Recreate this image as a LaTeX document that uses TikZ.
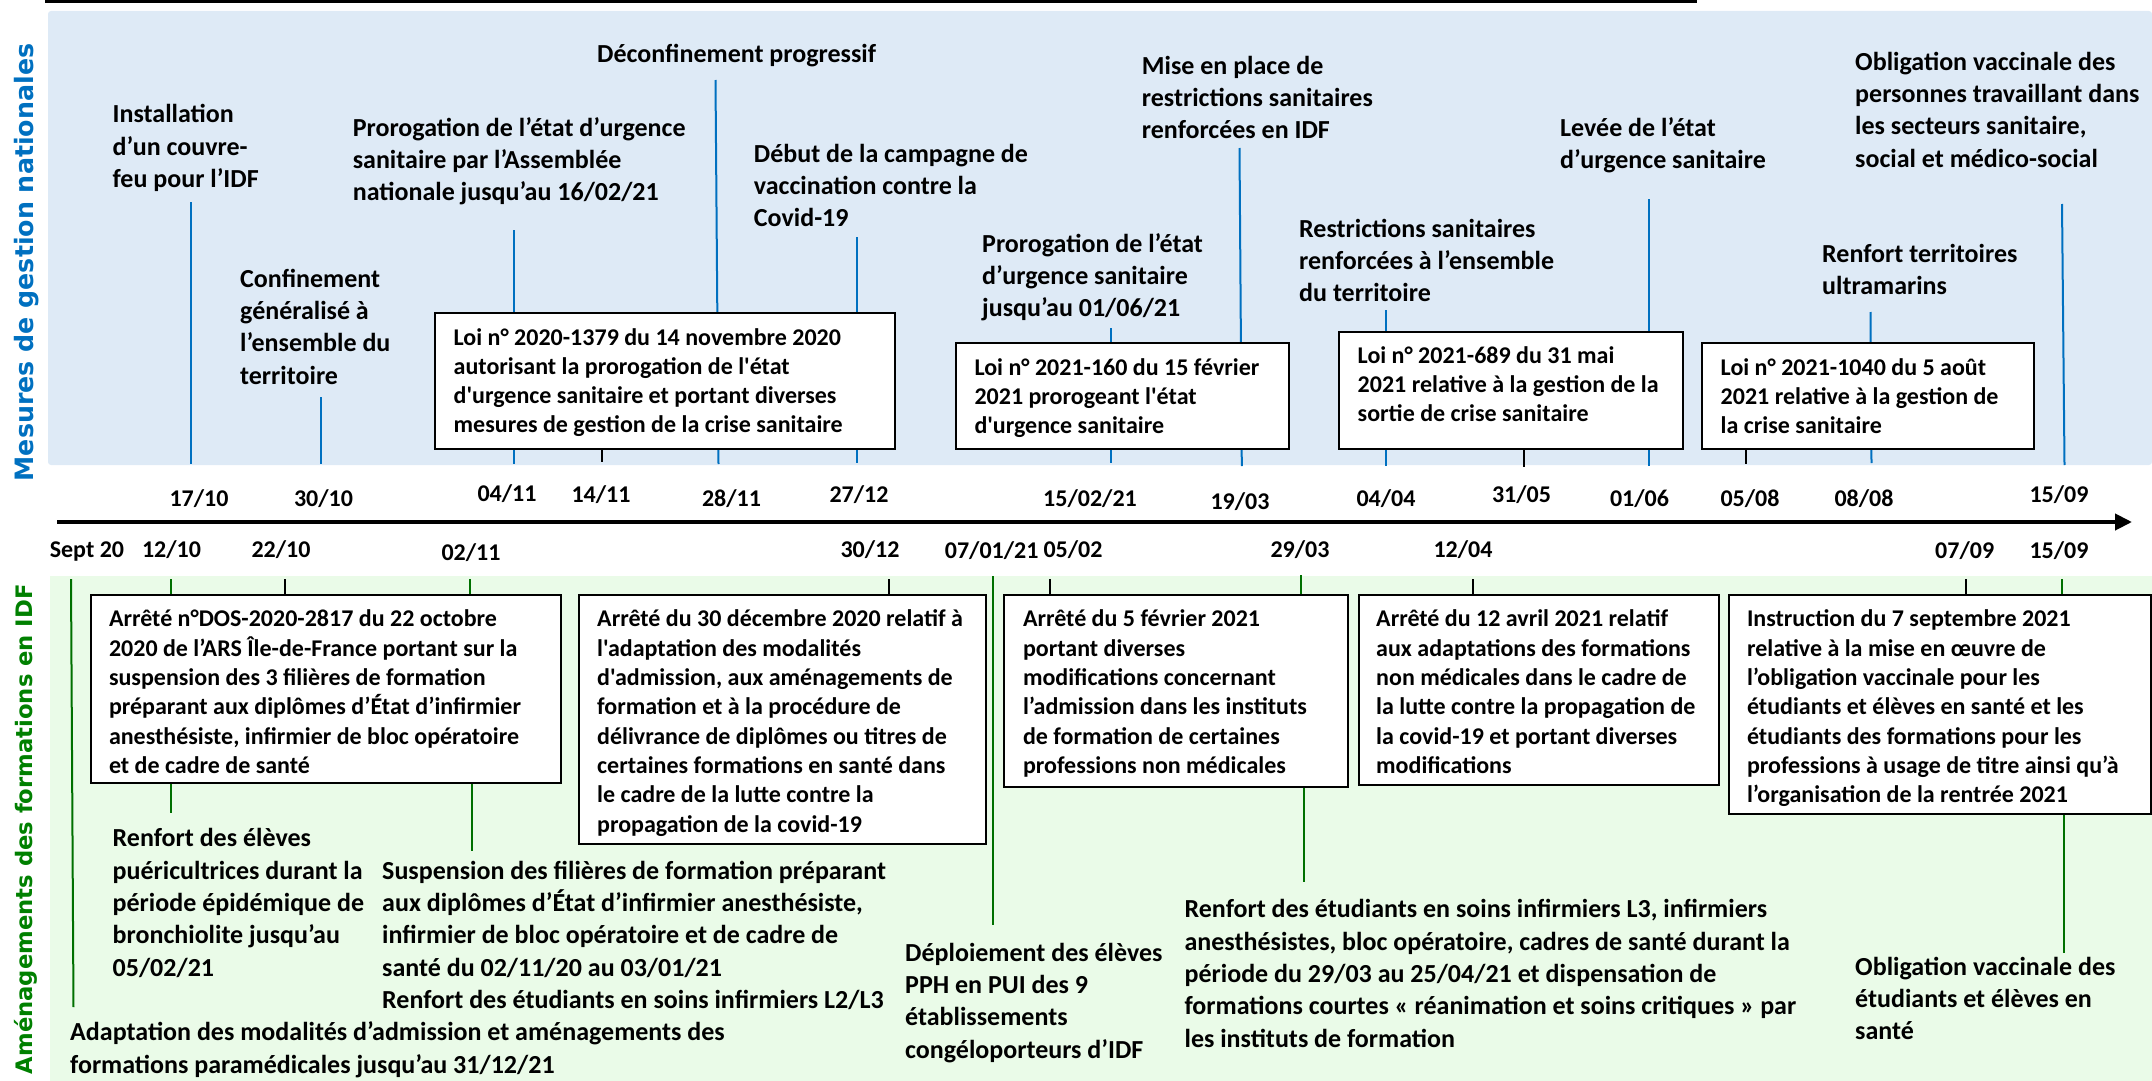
\documentclass[tikz,border=0pt]{standalone}
\usepackage{fontspec}
\usetikzlibrary{arrows.meta}
\newfontfamily\cf{Carlito}
\newfontfamily\dvs{DejaVu Sans}
\definecolor{bluebg}{RGB}{222,234,246}
\definecolor{greenbg}{RGB}{234,251,232}
\definecolor{blueln}{RGB}{0,112,192}
\definecolor{greenln}{RGB}{0,112,0}
\definecolor{greentx}{RGB}{0,128,0}
\newcommand\vseg[4]{\coordinate (#1a) at (#2);\coordinate (#1b) at (#3);\draw[#4] (#1a) -- (#1b);}
\tikzset{
 lbl/.style={anchor=north west, inner sep=0pt, align=left, font=\cf\bfseries\fontsize{26}{32.3}\selectfont},
 boxt/.style={anchor=north west, inner sep=0pt, align=left, font=\cf\bfseries\fontsize{24}{29.3}\selectfont},
 datel/.style={anchor=base, inner sep=0pt, font=\cf\bfseries\fontsize{24}{29}\selectfont},
 frame/.style={draw=black, line width=2pt, fill=white, anchor=north west, inner sep=0pt},
 bline/.style={draw=blueln, line width=2pt},
 gline/.style={draw=greenln, line width=2pt},
 kline/.style={draw=black, line width=2pt},
 vlab/.style={rotate=90, inner sep=0pt, font=\dvs\bfseries\fontsize{25.3}{30}\selectfont},
 vlabg/.style={rotate=90, inner sep=0pt, font=\dvs\bfseries\fontsize{22.7}{27}\selectfont},
}
\begin{document}
\begin{tikzpicture}[x=1pt,y=-1pt]
\useasboundingbox (0,0) rectangle (2152,1081);
% backgrounds
\fill[bluebg, rounded corners=3pt] (48,11) rectangle (2152,465);
\fill[greenbg] (50,576) rectangle (2152,1081);
% top rule
\coordinate (tra) at (45,1.5); \coordinate (trb) at (1697,1.5);
\draw[line width=3.5pt] (tra) -- (trb);
% axis
\coordinate (axs) at (57,522); \coordinate (axe) at (2132,522);
\draw[line width=4pt, -{Triangle[length=17pt,width=16pt]}] (axs) -- (axe);
% side labels
\node[vlab, text=blueln, anchor=base] (vl1) at (33,262.5) {Mesures de gestion nationales};
\node[vlabg, text=greentx, anchor=base east] (vl2) at (32,584) {Aménagements des formations en IDF};
% top connectors
\vseg{c1}{191,202}{191,464}{bline}
\vseg{c2}{321,397}{321,464}{bline}
\vseg{c3}{514,230}{514,464}{bline}
\vseg{c4}{601.5,448}{601.5,462}{kline}
\vseg{c5}{715.5,80}{718.5,464}{bline}
\vseg{c6}{856.6,237}{856.6,463}{bline}
\vseg{c7}{1111,328}{1111,463}{bline}
\vseg{c8}{1239.5,148}{1241.8,466}{bline}
\vseg{c9}{1386,310}{1386,466}{bline}
\vseg{c10}{1523.6,448}{1523.6,467}{kline}
\vseg{c11}{1648.8,199}{1648.8,466}{bline}
\vseg{c12}{1746,448}{1746,464}{kline}
\vseg{c13}{1870.5,312}{1871.5,463}{bline}
\vseg{c14}{2062,204}{2064.5,465}{bline}
% bottom connectors
\vseg{d1}{71,579}{73.5,1007}{gline}
\vseg{d2}{170.8,579}{170.8,594}{gline}
\vseg{d2b}{171,782}{171,813}{gline}
\vseg{d3}{284.7,579}{284.7,594}{kline}
\vseg{d4}{469.7,579}{469.7,594}{gline}
\vseg{d4b}{472,782}{472,850.7}{gline}
\vseg{d5}{888.7,579}{888.7,594}{kline}
\vseg{d6}{993,576}{993,925}{gline}
\vseg{d7}{1050,579}{1050,594}{kline}
\vseg{d8}{1300.5,575}{1300.5,594}{gline}
\vseg{d8b}{1304,786}{1304,881.7}{gline}
\vseg{d9}{1472.8,579}{1472.8,594}{kline}
\vseg{d10}{1966,579}{1966,594}{kline}
\vseg{d11}{2062,579}{2062,594}{gline}
\vseg{d11b}{2064,812.7}{2064,953}{gline}
% top boxes
\node[frame, minimum width=460pt, minimum height=136pt] (bx1) at (434,312) {};
\node[boxt] (bx1t) at ([shift={(19.5,12.3)}]bx1.north west) {\strut Loi n° 2020-1379 du 14 novembre 2020\\autorisant la prorogation de l'état\\d'urgence sanitaire et portant diverses\\mesures de gestion de la crise sanitaire};
\node[frame, minimum width=333pt, minimum height=106.6pt] (bx2) at (954.8,341.7) {};
\node[boxt] (bx2t) at ([shift={(19.5,12.8)}]bx2.north west) {\strut Loi n° 2021-160 du 15 février\\2021 prorogeant l'état\\d'urgence sanitaire};
\node[frame, minimum width=344pt, minimum height=117pt] (bx3) at (1338,331) {};
\node[boxt] (bx3t) at ([shift={(19.5,11.5)}]bx3.north west) {\strut Loi n° 2021-689 du 31 mai\\2021 relative à la gestion de la\\sortie de crise sanitaire};
\node[frame, minimum width=332pt, minimum height=106.3pt] (bx4) at (1701,341.7) {};
\node[boxt] (bx4t) at ([shift={(19.5,12.8)}]bx4.north west) {\strut Loi n° 2021-1040 du 5 août\\2021 relative à la gestion de\\la crise sanitaire};
% bottom boxes
\node[frame, minimum width=470.5pt, minimum height=187.4pt] (bx5) at (89.5,594.3) {};
\node[boxt] (bx5t) at ([shift={(19.3,11.9)}]bx5.north west) {\strut Arrêté n°DOS-2020-2817 du 22 octobre\\2020 de l’ARS Île-de-France portant sur la\\suspension des 3 filières de formation\\préparant aux diplômes d’État d’infirmier\\anesthésiste, infirmier de bloc opératoire\\et de cadre de santé};
\node[frame, minimum width=407pt, minimum height=249.3pt] (bx6) at (577.6,594) {};
\node[boxt] (bx6t) at ([shift={(19.4,12.2)}]bx6.north west) {\strut Arrêté du 30 décembre 2020 relatif à\\l'adaptation des modalités\\d'admission, aux aménagements de\\formation et à la procédure de\\délivrance de diplômes ou titres de\\certaines formations en santé dans\\le cadre de la lutte contre la\\propagation de la covid-19};
\node[frame, minimum width=343.5pt, minimum height=192pt] (bx7) at (1003,594) {};
\node[boxt] (bx7t) at ([shift={(19.8,12.2)}]bx7.north west) {\strut Arrêté du 5 février 2021\\portant diverses\\modifications concernant\\l’admission dans les instituts\\de formation de certaines\\professions non médicales};
\node[frame, minimum width=360pt, minimum height=190pt] (bx8) at (1357.5,594) {};
\node[boxt] (bx8t) at ([shift={(18.5,12.2)}]bx8.north west) {\strut Arrêté du 12 avril 2021 relatif\\aux adaptations des formations\\non médicales dans le cadre de\\la lutte contre la propagation de\\la covid-19 et portant diverses\\modifications};
\node[frame, minimum width=421.7pt, minimum height=218.7pt] (bx9) at (1728,594) {};
\node[boxt] (bx9t) at ([shift={(18.8,12.2)}]bx9.north west) {\strut Instruction du 7 septembre 2021\\relative à la mise en œuvre de\\l’obligation vaccinale pour les\\étudiants et élèves en santé et les\\étudiants des formations pour les\\professions à usage de titre ainsi qu’à\\l’organisation de la rentrée 2021};
% top labels
\node[lbl] (t1) at (112.5,100.1) {\strut Installation\\d’un couvre-\\feu pour l’IDF};
\node[lbl] (t2) at (240,264.4) {\strut Confinement\\généralisé à\\l’ensemble du\\territoire};
\node[lbl] (t3) at (352.6,113.4) {\strut Prorogation de l’état d’urgence\\sanitaire par l’Assemblée\\nationale jusqu’au 16/02/21};
\node[lbl] (t4) at (597,39.4) {\strut Déconfinement progressif};
\node[lbl] (t5) at (753.7,139.4) {\strut Début de la campagne de\\vaccination contre la\\Covid-19};
\node[lbl] (t6) at (982,229.4) {\strut Prorogation de l’état\\d’urgence sanitaire\\jusqu’au 01/06/21};
\node[lbl] (t7) at (1141.7,51.4) {\strut Mise en place de\\restrictions sanitaires\\renforcées en IDF};
\node[lbl] (t8) at (1299,214.4) {\strut Restrictions sanitaires\\renforcées à l’ensemble\\du territoire};
\node[lbl] (t9) at (1560,113.4) {\strut Levée de l’état\\d’urgence sanitaire};
\node[lbl] (t10) at (1822,239.4) {\strut Renfort territoires\\ultramarins};
\node[lbl] (t11) at (1855,47.4) {\strut Obligation vaccinale des\\personnes travaillant dans\\les secteurs sanitaire,\\social et médico-social};
% bottom labels
\node[lbl] (u1) at (112.5,824.1) {\strut Renfort des élèves\\puéricultrices durant la\\période épidémique de\\bronchiolite jusqu’au\\05/02/21};
\node[lbl] (u2) at (382,856.4) {\strut Suspension des filières de formation préparant\\aux diplômes d’État d’infirmier anesthésiste,\\infirmier de bloc opératoire et de cadre de\\santé du 02/11/20 au 03/01/21\\Renfort des étudiants en soins infirmiers L2/L3};
\node[lbl] (u3) at (70,1018.1) {\strut Adaptation des modalités d’admission et aménagements des\\formations paramédicales jusqu’au 31/12/21};
\node[lbl] (u4) at (905,938.4) {\strut Déploiement des élèves\\PPH en PUI des 9\\établissements\\congéloporteurs d’IDF};
\node[lbl] (u5) at (1184.4,895.1) {\strut Renfort des étudiants en soins infirmiers L3, infirmiers\\anesthésistes, bloc opératoire, cadres de santé durant la\\période du 29/03 au 25/04/21 et dispensation de\\formations courtes « réanimation et soins critiques » par\\les instituts de formation};
\node[lbl] (u6) at (1855,952.4) {\strut Obligation vaccinale des\\étudiants et élèves en\\santé};
% dates above axis
\node[datel] (a1) at (199,506.7) {17/10};
\node[datel] (a2) at (323.5,506) {30/10};
\node[datel] (a3) at (507,501.7) {04/11};
\node[datel] (a4) at (601,502) {14/11};
\node[datel] (a5) at (731.5,506) {28/11};
\node[datel] (a6) at (859,502) {27/12};
\node[datel] (a7) at (1090,506) {15/02/21};
\node[datel] (a8) at (1240,509) {19/03};
\node[datel] (a9) at (1386,506) {04/04};
\node[datel] (a10) at (1521.5,502) {31/05};
\node[datel] (a11) at (1639.5,506) {01/06};
\node[datel] (a12) at (1750,506) {05/08};
\node[datel] (a13) at (1864,506) {08/08};
\node[datel] (a14) at (2059,502) {15/09};
% dates below axis
\node[datel, anchor=base west] (b1) at (49.6,557) {Sept 20};
\node[datel] (b2) at (171.5,557) {12/10};
\node[datel] (b3) at (281,557) {22/10};
\node[datel] (b4) at (471,560) {02/11};
\node[datel] (b5) at (870,557) {30/12};
\node[datel, anchor=base west] (b6) at (944.7,558) {07/01/21};
\node[datel] (b7) at (1073,557) {05/02};
\node[datel] (b8) at (1300,557) {29/03};
\node[datel] (b9) at (1463,557) {12/04};
\node[datel] (b10) at (1964.7,558) {07/09};
\node[datel] (b11) at (2059,558) {15/09};
\end{tikzpicture}
\end{document}
